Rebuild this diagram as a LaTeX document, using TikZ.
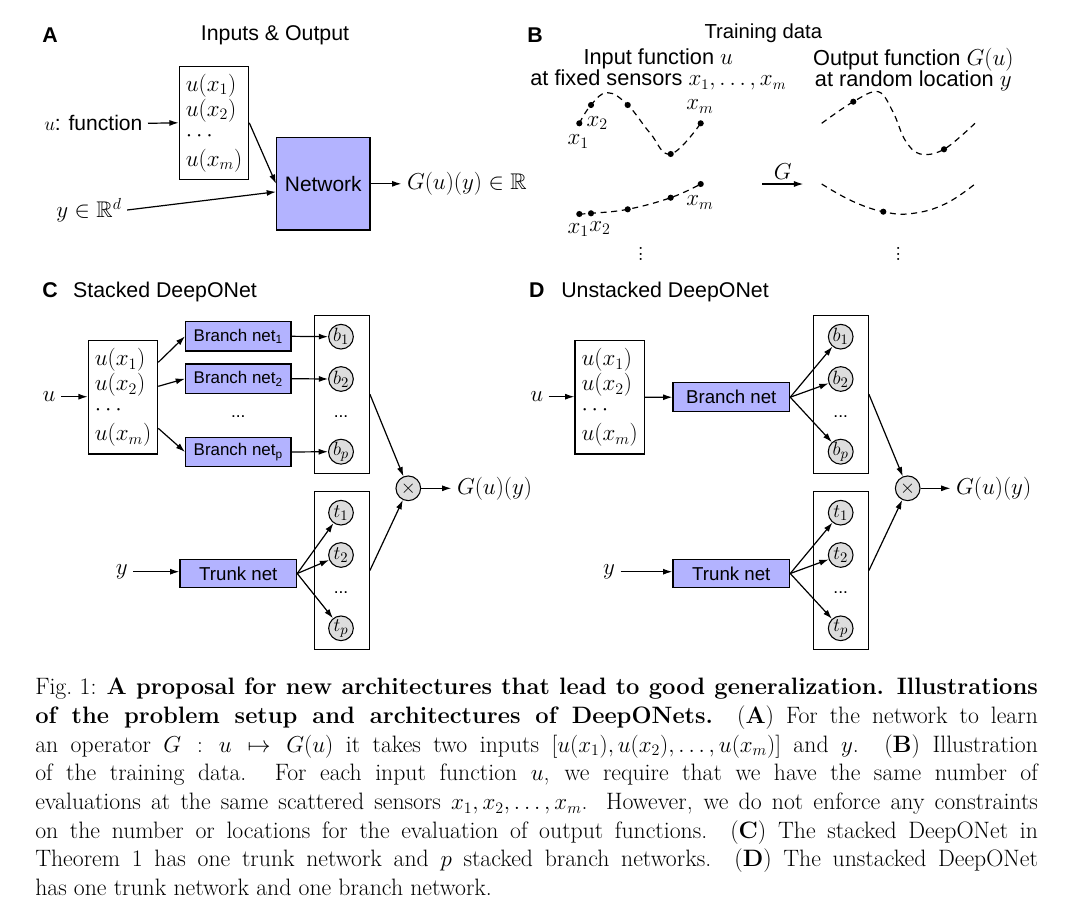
\documentclass[tikz,border=0pt]{standalone}
\usepackage{fontspec}
\setsansfont{Liberation Sans}
\usepackage{amssymb}
\usetikzlibrary{arrows.meta,calc}

\definecolor{netblue}{RGB}{179,179,255}
\definecolor{nodegray}{RGB}{221,221,221}

\tikzset{
  panel/.style={font=\sffamily\bfseries\fontsize{16}{18}\selectfont, inner sep=0pt},
  ttl/.style={font=\sffamily\fontsize{16}{16.2}\selectfont, inner sep=0pt},
  lab/.style={inner sep=4pt, font=\fontsize{17}{19}\selectfont},
  netbox/.style={draw, fill=netblue, line width=0.9pt, inner sep=0pt,
                 font=\sffamily\fontsize{14}{16}\selectfont},
  bnet/.style={netbox, minimum width=79pt, minimum height=22pt,
               font=\sffamily\fontsize{12.7}{14}\selectfont},
  trunk/.style={netbox, minimum width=87.5pt, minimum height=21.5pt},
  inbox/.style={draw, line width=0.9pt, align=left, inner sep=0pt,
                minimum width=52pt, minimum height=85pt,
                font=\fontsize{16.5}{18.75}\selectfont},
  colbox/.style={draw, line width=0.9pt, minimum width=41.25pt,
                 minimum height=118.5pt, inner sep=0pt},
  neuron/.style={circle, draw, fill=nodegray, line width=0.8pt,
                 minimum size=18.5pt, inner sep=0pt, font=\fontsize{15}{15}\selectfont},
  dotsl/.style={inner sep=0pt, font=\sffamily\fontsize{13}{14}\selectfont},
  conn/.style={-{Latex[length=7pt,width=4.5pt]}, line width=0.9pt},
  dashcurve/.style={line width=0.9pt, dash pattern=on 4.5pt off 3.5pt},
}

\begin{document}
\begin{tikzpicture}[x=0.75pt, y=-0.75pt]
  \useasboundingbox (0,0) rectangle (1069,907);

  % A: inputs and output
  \node[panel] (labA) at (50,35) {A};
  \node[ttl] (titA) at (275,35) {Inputs \& Output};
  \node[inbox] (inA) at (214,122.8) {$u(x_1)$\\$u(x_2)$\\$\cdots$\\$u(x_m)$};
  \node[lab, anchor=east, font=\sffamily\fontsize{15.8}{17}\selectfont] (uA) at (148,123.3) {$u$: function};
  \node[netbox, minimum width=70pt, minimum height=69.2pt,
        font=\sffamily\fontsize{15.7}{17}\selectfont] (net) at (323.3,183.8) {Network};
  \node[lab] (yA) at (89,210) {$y\in\mathbb{R}^d$};
  \node[lab, anchor=west] (outA) at (401.4,183.8) {$G(u)(y)\in\mathbb{R}$};
  \draw[conn] (uA.east) -- (inA.west);
  \draw[conn] (inA.east) -- (net.west);
  \draw[conn] (yA.east) -- ([yshift=-6pt]net.west);
  \draw[conn] (net.east) -- (outA.west);

  % B: training data
  \node[panel] (labB) at (535,35) {B};
  \node[ttl, font=\sffamily\fontsize{15.2}{16}\selectfont] (titB) at (763.3,33.3) {Training data};
  \node[ttl, align=center, font=\sffamily\fontsize{16.3}{16.2}\selectfont] (inF) at (658.3,69.5)
       {Input function $u$\\at fixed sensors $x_1,\dots,x_m$};
  \node[ttl, align=center, font=\sffamily\fontsize{16.3}{16.2}\selectfont] (outF) at (913.3,69.5)
       {Output function $G(u)$\\at random location $y$};

  \draw[dashcurve] plot[smooth, tension=0.7] coordinates
       {(579.3,123.3) (591,105) (607.3,92.7) (627.7,105) (650,133) (670.7,154) (700.7,123.3)};
  \draw[dashcurve] plot[smooth, tension=0.7] coordinates
       {(579.3,214) (591,213.3) (627.7,209.3) (670.7,197.7) (700.7,184)};
  \draw[dashcurve] plot[smooth, tension=0.6] coordinates
       {(821.7,123.3) (853.3,101.7) (878.3,91.7) (893,112) (905,140) (920,154) (944,149.3) (975,123.3)};
  \draw[dashcurve] plot[smooth, tension=0.7] coordinates
       {(821.7,184) (852,201) (883.3,211.7) (912,213.5) (945,204) (975,184)};
  \foreach \x/\y in {579.3/123.3, 591/105, 627.7/105, 670.7/154, 700.7/123.3,
                     579.3/214, 591/213.3, 627.7/209.3, 670.7/197.7, 700.7/184,
                     853.3/101.7, 944/149.3, 883.3/211.7}
    \fill (\x,\y) circle (2.3pt);

  \node[lab, inner sep=0pt] (x1a) at (578.3,141.7) {$x_1$};
  \node[lab, inner sep=0pt] (x2a) at (597.3,123.3) {$x_2$};
  \node[lab, inner sep=0pt] (xma) at (700,106.7) {$x_m$};
  \node[lab, inner sep=0pt] (x1b) at (578.3,230) {$x_1$};
  \node[lab, inner sep=0pt] (x2b) at (600,228.3) {$x_2$};
  \node[lab, inner sep=0pt] (xmb) at (700,202.7) {$x_m$};
  \node[lab, inner sep=0pt, font=\fontsize{19}{19}\selectfont] (vdl) at (640.7,250) {$\vdots$};
  \node[lab, inner sep=0pt, font=\fontsize{19}{19}\selectfont] (vdr) at (898.3,250) {$\vdots$};

  \coordinate (gS) at (762.3,184);
  \coordinate (gE) at (803.3,184);
  \draw[conn] (gS) -- node[lab, above, inner sep=3pt] (gL) {$G$} (gE);

  % C: stacked DeepONet
  \node[panel] (labC) at (50,290) {C};
  \node[ttl] (titC) at (165,291.7) {Stacked DeepONet};
  \node[inbox] (inc) at (123,397.3) {$u(x_1)$\\$u(x_2)$\\$\cdots$\\$u(x_m)$};
  \node[lab] (uc) at (49,396.7) {$u$};
  \foreach \i/\yy in {1/336.3, 2/378.7, p/452}
    \node[bnet] (bnc\i) at (238.3,\yy) {Branch net\textsubscript{\i}};
  \node[dotsl] (dbn) at (238.3,417) {...};
  \node[colbox] (colbc) at (341.8,394.2) {};
  \node[colbox] (coltc) at (341.8,570.5) {};
  \foreach \i/\yy in {1/336.7, 2/379, p/451.7}
    \node[neuron] (bc\i) at (341,\yy) {$b_\i$};
  \foreach \i/\yy in {1/512.7, 2/555, p/628.3}
    \node[neuron] (tc\i) at (341,\yy) {$t_\i$};
  \node[dotsl] (dbc) at (341,417) {...};
  \node[dotsl] (dtc) at (341,593) {...};
  \node[trunk] (trc) at (238.3,573.5) {Trunk net};
  \node[lab] (yc) at (121.7,571.7) {$y$};
  \node[neuron] (prodc) at (408.3,488.3) {$\times$};
  \node[lab, anchor=west] (outc) at (451.4,488.3) {$G(u)(y)$};

  \draw[conn] (uc.east) -- (uc.east -| inc.west);
  \draw[conn] ($(inc.east)+(0,-35)$) -- (bnc1.west);
  \draw[conn] ($(inc.east)+(0,-11)$) -- (bnc2.west);
  \draw[conn] ($(inc.east)+(0,31)$) -- (bncp.west);
  \foreach \i in {1,2,p} {
    \draw[conn] (bnc\i.east) -- (bc\i.west);
    \draw[conn] (trc.east) -- (tc\i);
  }
  \draw[conn] (yc.east) -- (yc.east -| trc.west);
  \draw[conn] (colbc.east) -- (prodc);
  \draw[conn] (coltc.east) -- (prodc);
  \draw[conn] (prodc.east) -- (outc.west);

  % D: unstacked DeepONet
  \node[panel] (labD) at (536.7,290) {D};
  \node[ttl] (titD) at (665,291.7) {Unstacked DeepONet};
  \node[inbox] (ind) at (609.7,397.3) {$u(x_1)$\\$u(x_2)$\\$\cdots$\\$u(x_m)$};
  \node[lab] (ud) at (536.7,396.7) {$u$};
  \node[trunk] (bnd) at (731.3,397.2) {Branch net};
  \node[colbox] (colbd) at (840.8,394.2) {};
  \node[colbox] (coltd) at (840.8,570.5) {};
  \foreach \i/\yy in {1/336.7, 2/379, p/451.7}
    \node[neuron] (bd\i) at (840.7,\yy) {$b_\i$};
  \foreach \i/\yy in {1/512.7, 2/555, p/628.3}
    \node[neuron] (td\i) at (840.7,\yy) {$t_\i$};
  \node[dotsl] (dbd) at (840.7,417) {...};
  \node[dotsl] (dtd) at (840.7,593) {...};
  \node[trunk] (trd) at (731.3,573.5) {Trunk net};
  \node[lab] (yd) at (609,571.7) {$y$};
  \node[neuron] (prodd) at (907.7,488.3) {$\times$};
  \node[lab, anchor=west] (outd) at (950.5,488.3) {$G(u)(y)$};

  \draw[conn] (ud.east) -- (ud.east -| ind.west);
  \draw[conn] (ind.east) -- (bnd.west);
  \foreach \i in {1,2,p} {
    \draw[conn] (bnd.east) -- (bd\i);
    \draw[conn] (trd.east) -- (td\i);
  }
  \draw[conn] (yd.east) -- (yd.east -| trd.west);
  \draw[conn] (colbd.east) -- (prodd);
  \draw[conn] (coltd.east) -- (prodd);
  \draw[conn] (prodd.east) -- (outd.west);

  % caption
  \node[anchor=north west, inner sep=0pt, text width=752pt, align=justify,
        font=\fontsize{17.8}{21.5}\selectfont] (cap) at (35,678) {\noindent
    Fig.~1: \textbf{A proposal for new architectures that lead to good generalization. Illustrations\linebreak
    of the problem setup and architectures of DeepONets.} (\textbf{A}) For the network to learn\linebreak
    an operator $G: u\mapsto G(u)$ it takes two inputs $[u(x_1),u(x_2),\dots,u(x_m)]$ and $y$. (\textbf{B}) Illustration\linebreak
    of the training data. For each input function $u$, we require that we have the same number of\linebreak
    evaluations at the same scattered sensors $x_1,x_2,\dots,x_m$. However, we do not enforce any constraints\linebreak
    on the number or locations for the evaluation of output functions. (\textbf{C}) The stacked DeepONet in\linebreak
    Theorem 1 has one trunk network and $p$ stacked branch networks. (\textbf{D}) The unstacked DeepONet\linebreak
    has one trunk network and one branch network.};
\end{tikzpicture}
\end{document}
